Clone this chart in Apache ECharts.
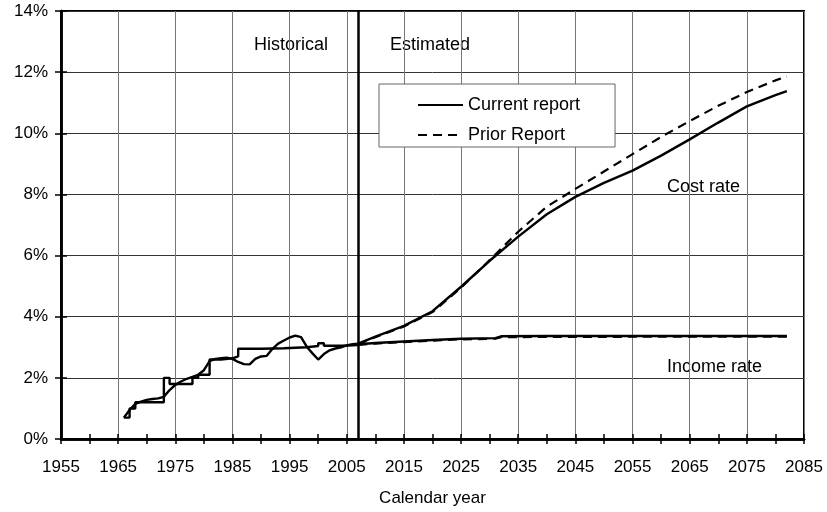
<!DOCTYPE html>
<html>
<head>
<meta charset="utf-8">
<script src="https://cdn.jsdelivr.net/npm/echarts@6/dist/echarts.min.js"></script>
<style>html,body{margin:0;padding:0;background:#fff}#c{width:827px;height:512px}</style>
</head>
<body>
<div id="c"></div>
<script>
// ---- Data ----
const histYears = [1966,1967,1968,1969,1970,1971,1972,1973,1974,1975,1976,1977,1978,1979,1980,1981,1982,1983,1984,1985,1986,1987,1988,1989,1990,1991,1992,1993,1994,1995,1996,1997,1998,1999,2000,2001,2002,2003,2004,2005,2006,2007];
const histCost  = [0.70,0.95,1.15,1.22,1.28,1.31,1.33,1.38,1.60,1.77,1.88,1.97,2.03,2.10,2.25,2.55,2.62,2.64,2.66,2.62,2.52,2.45,2.44,2.62,2.70,2.72,2.95,3.12,3.22,3.32,3.38,3.33,3.02,2.80,2.60,2.78,2.90,2.96,3.00,3.06,3.10,3.12];

const histIncomeYears = [1966,1967,1968,1973,1974,1978,1979,1981,1983,1985,1986,1990,1994,1998,2000,2001,2004,2007];
const histIncome      = [0.70,1.00,1.20,2.00,1.80,2.00,2.10,2.60,2.64,2.70,2.95,2.97,3.00,3.04,3.13,3.05,3.07,3.10];

const projYears       = [2007,2010,2015,2020,2025,2030,2035,2040,2045,2050,2055,2060,2065,2070,2075,2080,2082];
const currentCost     = [3.12,3.35,3.70,4.18,4.98,5.83,6.62,7.35,7.92,8.38,8.78,9.27,9.80,10.35,10.88,11.25,11.38];
const priorCost       = [3.10,3.33,3.68,4.15,4.95,5.85,6.78,7.60,8.18,8.75,9.32,9.88,10.40,10.90,11.35,11.73,11.86];

const projIncomeYears = [2007,2010,2015,2020,2025,2031,2032,2040,2050,2060,2070,2082];
const currentIncome   = [3.10,3.14,3.19,3.24,3.28,3.30,3.36,3.37,3.37,3.37,3.37,3.37];
const priorIncome     = [3.08,3.12,3.17,3.22,3.26,3.28,3.33,3.34,3.34,3.35,3.35,3.35];

const boundaryYear = 2007;
const yTicks = ['0%','2%','4%','6%','8%','10%','12%','14%'];
const seriesNames = ['Current report','Prior Report'];

// ---- Helpers ----
const pairs = (xs, ys) => xs.map((x, i) => [x, ys[i]]);
const FONT = '"Liberation Sans", Arial, Helvetica, sans-serif';
const solid = { color: '#000', width: 2.4, type: 'solid' };
const dashed = { color: '#000', width: 2.2, type: [9, 6] };

const chart = echarts.init(document.getElementById('c'), null, { renderer: 'canvas' });

function lineSeries(name, data, style, extra) {
  return Object.assign({
    name, type: 'line', data, symbol: 'none', showSymbol: false,
    xAxisIndex: 0, yAxisIndex: 0,
    lineStyle: style, itemStyle: { color: '#000' },
    emphasis: { disabled: true }, silent: true, animation: false
  }, extra || {});
}

const xBase = { type: 'value', min: 1955, max: 2085, interval: 10, gridIndex: 0 };
const yBase = { type: 'value', min: 0, max: 14, interval: 2, gridIndex: 0 };

chart.setOption({
  animation: false,
  backgroundColor: '#fff',
  textStyle: { fontFamily: FONT },
  grid: { left: 61, right: 23, top: 11, bottom: 72, show: true, borderColor: '#000', borderWidth: 2, backgroundColor: 'transparent' },
  xAxis: [
    Object.assign({}, xBase, {
      position: 'bottom',
      name: 'Calendar year', nameLocation: 'middle', nameGap: 51,
      nameTextStyle: { color: '#000', fontSize: 17, fontFamily: FONT },
      axisLine: { show: true, lineStyle: { color: '#000', width: 2.5 } },
      axisTick: { show: true, inside: false, length: 5, lineStyle: { color: '#000', width: 1.5 } },
      minorTick: { show: true, splitNumber: 2, length: 5, lineStyle: { color: '#000', width: 1.5 } },
      axisLabel: { show: true, color: '#000', fontSize: 17, fontFamily: FONT, margin: 20,
        formatter: v => String(v) },
      splitLine: { show: true, lineStyle: { color: '#777', width: 1 } }
    }),
    Object.assign({}, xBase, {
      position: 'bottom',
      axisLine: { show: true, lineStyle: { color: '#000', width: 2.5 } },
      axisTick: { show: true, inside: true, length: 5, lineStyle: { color: '#000', width: 1.5 } },
      minorTick: { show: true, splitNumber: 2, length: 5, lineStyle: { color: '#000', width: 1.5 } },
      axisLabel: { show: false },
      splitLine: { show: false }
    })
  ],
  yAxis: [
    Object.assign({}, yBase, {
      position: 'left',
      axisLine: { show: true, lineStyle: { color: '#000', width: 2.5 } },
      axisTick: { show: true, inside: false, length: 6, lineStyle: { color: '#000', width: 1.5 } },
      axisLabel: { show: true, color: '#000', fontSize: 17, fontFamily: FONT, margin: 13,
        formatter: v => yTicks[Math.round(v / 2)] },
      splitLine: { show: true, lineStyle: { color: '#333', width: 1 } }
    }),
    Object.assign({}, yBase, {
      position: 'left',
      axisLine: { show: true, lineStyle: { color: '#000', width: 2.5 } },
      axisTick: { show: true, inside: true, length: 6, lineStyle: { color: '#000', width: 1.5 } },
      axisLabel: { show: false },
      splitLine: { show: false }
    })
  ],
  legend: {
    data: [
      { name: seriesNames[0], itemStyle: { opacity: 0 } },
      { name: seriesNames[1], itemStyle: { opacity: 0 } }
    ],
    orient: 'vertical', left: 379, top: 84,
    itemWidth: 45, itemHeight: 14, itemGap: 12,
    backgroundColor: '#fff', borderColor: '#666', borderWidth: 1, borderRadius: 0,
    padding: [12, 35, 3, 38],
    textStyle: { color: '#000', fontSize: 18, fontFamily: FONT },
    selectedMode: false
  },
  graphic: [
    { type: 'text', x: 254, y: 45, silent: true, style: { text: 'Historical', font: '18px ' + FONT, fill: '#000', verticalAlign: 'middle' } },
    { type: 'text', x: 390, y: 45, silent: true, style: { text: 'Estimated', font: '18px ' + FONT, fill: '#000', verticalAlign: 'middle' } },
    { type: 'text', x: 667, y: 187, silent: true, style: { text: 'Cost rate', font: '18px ' + FONT, fill: '#000', verticalAlign: 'middle' } },
    { type: 'text', x: 667, y: 367, silent: true, style: { text: 'Income rate', font: '18px ' + FONT, fill: '#000', verticalAlign: 'middle' } }
  ],
  series: [
    lineSeries(seriesNames[0], pairs(histYears, histCost), solid, {
      markLine: {
        silent: true, symbol: ['none', 'none'], animation: false,
        label: { show: false },
        lineStyle: { color: '#000', width: 2.5, type: 'solid' },
        emphasis: { disabled: true },
        data: [{ xAxis: boundaryYear }]
      }
    }),
    lineSeries(seriesNames[0], pairs(histIncomeYears, histIncome), solid, { step: 'end' }),
    lineSeries(seriesNames[0], pairs(projYears, currentCost), solid),
    lineSeries(seriesNames[0], pairs(projIncomeYears, currentIncome), solid),
    lineSeries(seriesNames[1], pairs(projYears, priorCost), dashed),
    lineSeries(seriesNames[1], pairs(projIncomeYears, priorIncome), dashed)
  ]
});
</script>
</body>
</html>
